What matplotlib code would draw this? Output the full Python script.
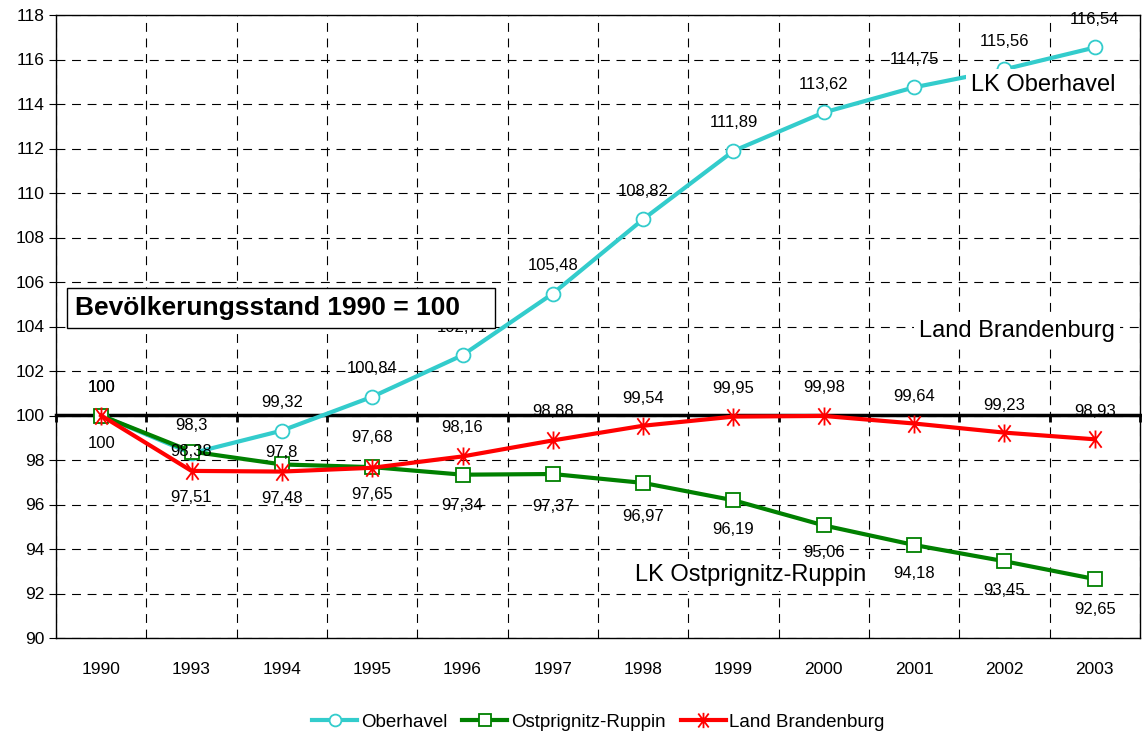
import numpy as np
import matplotlib
matplotlib.use("Agg")
import matplotlib.pyplot as plt
from matplotlib.path import Path
from matplotlib.patches import Rectangle

plt.rcParams['font.family'] = ['Liberation Sans', 'DejaVu Sans']

# ===== DATEN =====
jahre = ["1990", "1993", "1994", "1995", "1996", "1997", "1998",
         "1999", "2000", "2001", "2002", "2003"]
oberhavel = [100, 98.3, 99.32, 100.84, 102.71, 105.48, 108.82,
             111.89, 113.62, 114.75, 115.56, 116.54]
ostprignitz = [100, 98.38, 97.8, 97.68, 97.34, 97.37, 96.97,
               96.19, 95.06, 94.18, 93.45, 92.65]
brandenburg = [100, 97.51, 97.48, 97.65, 98.16, 98.88, 99.54,
               99.95, 99.98, 99.64, 99.23, 98.93]

# Abstand der Beschriftung zum Punkt (Pixel, positiv = oben)
off_ober = [28] * 12
off_ost = [28, 0, 12, 30, -31, -32, -34, -29, -27, -29, -29, -30]
off_bb = [-28, -27, -27, -27, 29, 29, 27, 28, 28, 27, 27, 28]

# Sternmarker wie in Excel (X mit senkrechtem Strich)
stern = Path([(-0.75, -1), (0.75, 1), (-0.75, 1), (0.75, -1), (0, -1.1), (0, 1.1)],
             [Path.MOVETO, Path.LINETO, Path.MOVETO, Path.LINETO, Path.MOVETO, Path.LINETO])

W, H = 1142, 739
fig = plt.figure(figsize=(W / 100, H / 100), dpi=100)
ax = fig.add_axes([56 / W, 1 - 638 / H, (1140 - 56) / W, (638 - 15) / H])

x = np.arange(len(jahre))

l1, = ax.plot(x, oberhavel, color='#33CCCC', lw=3, marker='o', ms=10,
              mfc='white', mec='#33CCCC', mew=1.3, zorder=3, label='Oberhavel')
l2, = ax.plot(x, ostprignitz, color='#008000', lw=3, marker='s', ms=10,
              mfc='white', mec='#008000', mew=1.3, zorder=3, label='Ostprignitz-Ruppin')
l3, = ax.plot(x, brandenburg, color='#FF0000', lw=3, marker=stern, ms=13,
              mfc='none', mec='#FF0000', mew=1.3, zorder=3, label='Land Brandenburg')

# Werte beschriften (mit Dezimalkomma)
for werte, offs in [(oberhavel, off_ober), (ostprignitz, off_ost), (brandenburg, off_bb)]:
    for i, v in enumerate(werte):
        txt = f"{v:g}".replace('.', ',')
        ax.annotate(txt, (i, v), xytext=(0, offs[i]), textcoords='offset pixels',
                    ha='center', va='center', fontsize=12, zorder=4)

# ===== ACHSEN =====
ax.set_xlim(-0.5, len(jahre) - 0.5)
ax.set_ylim(90, 118)
ax.set_yticks(np.arange(90, 119, 2))
ax.tick_params(axis='y', labelsize=12.5, length=5, direction='out')

ax.set_xticks(x)
ax.set_xticks(np.arange(-0.5, len(jahre), 1), minor=True)
ax.tick_params(axis='x', which='major', length=0, labelbottom=False)
ax.tick_params(axis='x', which='minor', length=5, width=2, direction='out')

# Kategorienachse schneidet bei 100
ax.spines['bottom'].set_position(('data', 100))
ax.spines['bottom'].set_linewidth(2.5)
for s in ['left', 'top', 'right']:
    ax.spines[s].set_linewidth(1)
    ax.spines[s].set_color('black')

sec = ax.secondary_xaxis('bottom')
sec.set_xticks(x, labels=jahre)
sec.tick_params(length=0, pad=17, labelsize=12.5)
sec.spines['bottom'].set_linewidth(1)

# Gitterlinien gestrichelt
ax.grid(which='minor', axis='x', color='black', lw=0.8, ls=(0, (8, 6)))
ax.grid(which='major', axis='y', color='black', lw=0.8, ls=(0, (8, 6)))
ax.grid(which='major', axis='x', visible=False)

# ===== TEXTE (Position in Pixeln von oben links) =====
def fig_text(px, py, s, **kw):
    fig.text(px / W, 1 - py / H, s, va='center', zorder=6, **kw)

kasten = dict(boxstyle='square,pad=0.2', fc='white', ec='none')
fig_text(1043, 85, "LK Oberhavel", fontsize=17, ha='center', bbox=kasten)
fig_text(1017, 331, "Land Brandenburg", fontsize=17, ha='center', bbox=kasten)
fig_text(751, 575, "LK Ostprignitz-Ruppin", fontsize=17, ha='center', bbox=kasten)

# Rahmen fuer den Hinweis, rechts etwas breiter wie im Original
fig.patches.append(Rectangle((67 / W, 1 - 328 / H), (495 - 67) / W, 40 / H,
                             transform=fig.transFigure, fc='white', ec='black',
                             lw=1, zorder=5))
fig_text(75, 308, "Bevölkerungsstand 1990 = 100", fontsize=19, fontweight='bold',
         ha='left')

# ===== LEGENDE =====
fig.legend(handles=[l1, l2, l3], loc='center', bbox_to_anchor=(0.524, 1 - 722 / H),
           ncol=3, frameon=False, fontsize=13.5, handlelength=2.4,
           handletextpad=0.2, columnspacing=0.8, markerscale=0.85)

fig.savefig("out.png", dpi=100)
